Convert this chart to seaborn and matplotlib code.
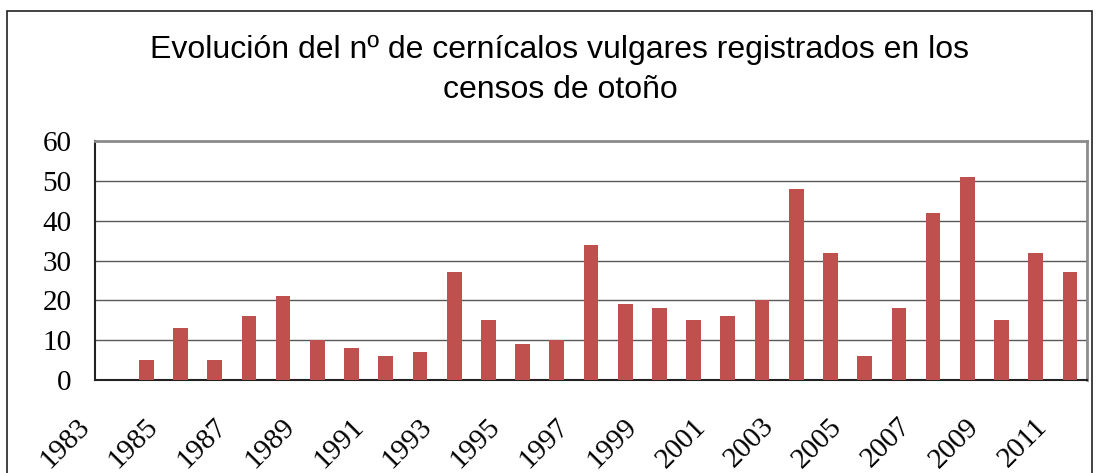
import numpy as np
import pandas as pd
import matplotlib
matplotlib.use("Agg")
import matplotlib.pyplot as plt
from matplotlib.patches import Rectangle
import seaborn as sns

# Datos
years = [str(y) for y in range(1983, 2012)]
counts = [0, 5, 13, 5, 16, 21, 10, 8, 6, 7, 27, 15, 9, 10, 34, 19, 18, 15,
          16, 20, 48, 32, 6, 18, 42, 51, 15, 32, 27]
yticks = [0, 10, 20, 30, 40, 50, 60]
label_years = [str(y) for y in range(1983, 2013)]  # labels at category boundaries

title = u"Evolución del nº de cernícalos vulgares registrados en los\ncensos de otoño"

df = pd.DataFrame({"year": years, "count": counts})

sns.set_style("white")
plt.rcParams["font.family"] = ["Liberation Serif", "DejaVu Serif"]

fig = plt.figure(figsize=(10.99, 4.73), dpi=100)
ax = fig.add_axes([95 / 1099, 1 - 380 / 473, (1087 - 95) / 1099, (380 - 141) / 473])

sns.barplot(data=df, x="year", y="count", color="#C0504D", saturation=1,
            width=0.43, linewidth=0, ax=ax, zorder=3)

ax.set_xlim(-0.5, len(years) - 0.5)
ax.set_ylim(0, 60)
ax.set_yticks(yticks)
ax.set_yticklabels([str(v) for v in yticks], fontsize=21, color="black")
ax.yaxis.grid(True, color="#595959", linewidth=1)
ax.set_axisbelow(True)

bounds = np.arange(-0.5, len(years), 1.0)
ax.set_xticks(bounds)
ax.set_xticklabels([label_years[k] if k % 2 == 0 else "" for k in range(len(bounds))],
                   rotation=45, ha="right", va="top", fontsize=21, color="black")
ax.tick_params(axis="x", length=7, width=1.2, color="#333333", pad=17, direction="out")
ax.tick_params(axis="y", length=8, width=1.2, color="#333333", pad=9, direction="out")
ax.set_xlabel("")
ax.set_ylabel("")

for side in ["top", "right"]:
    ax.spines[side].set_visible(True)
    ax.spines[side].set_color("#8c8c8c")
    ax.spines[side].set_linewidth(2)
for side in ["left", "bottom"]:
    ax.spines[side].set_color("#222222")
    ax.spines[side].set_linewidth(1.5)

fig.text(560 / 1099, 1 - 70 / 473, title, ha="center", va="center", color="black",
         fontsize=23, linespacing=1.4, family=["Liberation Sans", "DejaVu Sans"])

fig.add_artist(Rectangle((7 / 1099, -0.05), (1092 - 7) / 1099, 1.05 - 11 / 473,
                         transform=fig.transFigure, fill=False,
                         edgecolor="#222222", linewidth=1.2))

fig.savefig("out.png", dpi=100)
